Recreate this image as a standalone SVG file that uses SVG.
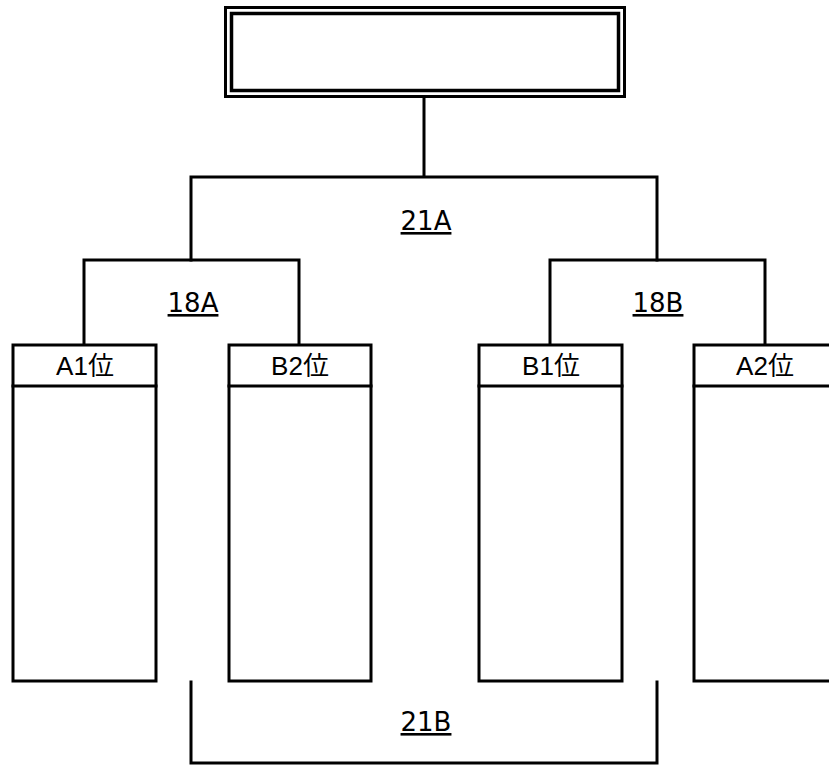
<svg xmlns="http://www.w3.org/2000/svg" width="829" height="765" viewBox="0 0 829 765">
<style>
.ln{fill:none;stroke:#000;stroke-width:3;stroke-linecap:square}
.bx{fill:#fff;stroke:#000;stroke-width:3}
.hd{font-family:"Liberation Sans","Noto Sans CJK JP",sans-serif;font-size:26px;text-anchor:middle;fill:#000}
.lb{font-family:"DejaVu Sans",Verdana,sans-serif;font-size:26px;text-anchor:middle;fill:#000;text-decoration:underline}
</style>
<rect width="829" height="765" fill="#fff"/>
<g id="connectors">
<path class="ln" d="M424,97 V177 M191,177 H657 M191,177 V260 M657,177 V260"/>
<path class="ln" d="M84,260 H299 M84,260 V344 M299,260 V344"/>
<path class="ln" d="M550,260 H765 M550,260 V344 M765,260 V344"/>
<path class="ln" d="M191,682 V763 H657 V682"/>
</g>
<g id="top">
<rect x="225.5" y="7.5" width="399" height="89" fill="#fff" stroke="#000" stroke-width="3"/>
<rect x="231.5" y="13.5" width="387" height="77" fill="none" stroke="#000" stroke-width="3.5"/>
</g>
<g id="label-21A"><text class="lb" x="426" y="230">21A</text></g>
<g id="label-18A"><text class="lb" x="193" y="312">18A</text></g>
<g id="label-18B"><text class="lb" x="658" y="312">18B</text></g>
<g id="label-21B"><text class="lb" x="426" y="731">21B</text></g>
<g id="A1">
<rect class="bx" x="13" y="345" width="143" height="336"/>
<line class="ln" x1="13" y1="386" x2="156" y2="386"/>
<text class="hd" x="85" y="375">A1位</text>
</g>
<g id="B2">
<rect class="bx" x="229" y="345" width="142" height="336"/>
<line class="ln" x1="229" y1="386" x2="371" y2="386"/>
<text class="hd" x="300" y="375">B2位</text>
</g>
<g id="B1">
<rect class="bx" x="479" y="345" width="143" height="336"/>
<line class="ln" x1="479" y1="386" x2="622" y2="386"/>
<text class="hd" x="551" y="375">B1位</text>
</g>
<g id="A2">
<rect class="bx" x="694" y="345" width="143" height="336"/>
<line class="ln" x1="694" y1="386" x2="837" y2="386"/>
<text class="hd" x="765" y="375">A2位</text>
</g>
</svg>
